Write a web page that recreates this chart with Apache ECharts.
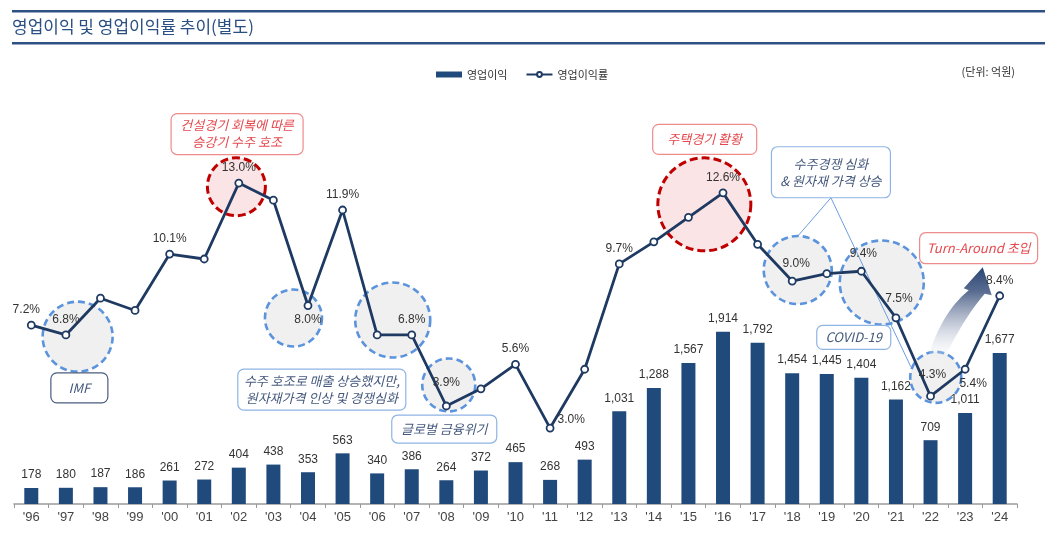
<!DOCTYPE html>
<html>
<head>
<meta charset="utf-8">
<script src="https://cdn.jsdelivr.net/npm/echarts@6/dist/echarts.min.js"></script>
<style>
  html, body { margin: 0; padding: 0; background: #fff; }
  #main { width: 1045px; height: 534px; }
</style>
</head>
<body>
<div id="main"></div>
<script>
const years = ["'96", "'97", "'98", "'99", "'00", "'01", "'02", "'03", "'04", "'05", "'06", "'07", "'08", "'09", "'10",
  "'11", "'12", "'13", "'14", "'15", "'16", "'17", "'18", "'19", "'20", "'21", "'22", "'23", "'24"];
// 영업이익 (억원)
const opProfit = [178, 180, 187, 186, 261, 272, 404, 438, 353, 563, 340, 386, 264, 372, 465,
  268, 493, 1031, 1288, 1567, 1914, 1792, 1454, 1445, 1404, 1162, 709, 1011, 1677];
// 영업이익률 (%)
const opMargin = [7.2, 6.8, 8.3, 7.8, 10.1, 9.9, 13.0, 12.3, 8.0, 11.9, 6.8, 6.8, 3.9, 4.6, 5.6,
  3.0, 5.4, 9.7, 10.6, 11.6, 12.6, 10.5, 9.0, 9.3, 9.4, 7.5, 4.3, 5.4, 8.4];
// years whose margin is printed
const marginLabeled = ["'96", "'97", "'00", "'02", "'04", "'05", "'07", "'08", "'10", "'11", "'13", "'16",
  "'18", "'20", "'21", "'22", "'23", "'24"];

const NAVY = '#1f3a62';
const BAR = '#214a7c';
const FONT = '"Liberation Sans", "Noto Sans CJK KR", sans-serif';
const KFONT = '"Noto Sans CJK KR", sans-serif';

// label placement tweaks for the margin line
const labelTweaks = {
  "'96": { offset: [-5, 0] },
  "'04": { position: 'bottom', distance: 4 },
  "'08": { distance: 13 },
  "'11": { position: 'right', distance: 3, offset: [0, -8] },
  "'18": { distance: 7, offset: [4, 0] },
  "'20": { distance: 7, offset: [2, 0] },
  "'21": { distance: 9, offset: [3, 0] },
  "'22": { distance: 11, offset: [2, 0] },
  "'23": { position: 'bottom', distance: 4, offset: [8, 0] }
};

const marginData = opMargin.map((v, i) => {
  const y = years[i];
  const show = marginLabeled.includes(y);
  return { value: v, label: Object.assign({ show: show }, labelTweaks[y] || {}) };
});

const chartDom = document.getElementById('main');
const myChart = echarts.init(chartDom);

const option = {
  animation: false,
  textStyle: { fontFamily: FONT },
  legend: {
    left: 431,
    top: 64,
    itemWidth: 26,
    itemHeight: 6,
    itemGap: 18,
    textStyle: { fontSize: 11, color: '#333', fontFamily: KFONT },
    data: [{ name: '영업이익', icon: 'rect' }, { name: '영업이익률' }]
  },
  grid: { left: 14, right: 28, top: 63, bottom: 30 },
  xAxis: {
    type: 'category',
    data: years,
    axisLine: { lineStyle: { color: '#9a9a9a', width: 1.5 } },
    axisTick: { show: true, length: 4, lineStyle: { color: '#9a9a9a' } },
    axisLabel: { fontSize: 13, color: '#444', margin: 7 }
  },
  yAxis: [
    { type: 'value', min: 0, max: 4900, show: false, splitLine: { show: false } },
    { type: 'value', min: -0.1, max: 17.9, show: false, splitLine: { show: false } }
  ],
  series: [
    {
      name: '영업이익',
      type: 'bar',
      data: opProfit,
      barWidth: 14,
      itemStyle: { color: BAR },
      label: {
        show: true,
        position: 'top',
        distance: 7,
        fontSize: 12,
        color: '#333',
        formatter: p => p.value.toLocaleString('en-US')
      },
      z: 2
    },
    {
      name: '영업이익률',
      type: 'line',
      yAxisIndex: 1,
      data: marginData,
      symbol: 'circle',
      symbolSize: 7,
      lineStyle: { color: NAVY, width: 2.8 },
      itemStyle: { color: '#fff', borderColor: NAVY, borderWidth: 1.8 },
      label: {
        position: 'top',
        distance: 5,
        fontSize: 12,
        color: '#333',
        formatter: p => p.value.toFixed(1) + '%'
      },
      z: 5
    }
  ]
};
option && myChart.setOption(option);

// ---- annotations, anchored on the axes' own scales ----
const xa = myChart.convertToPixel({ xAxisIndex: 0 }, years[0]);
const xb = myChart.convertToPixel({ xAxisIndex: 0 }, years[years.length - 1]);
const pt = (i, v) => [xa + i * (xb - xa) / (years.length - 1), myChart.convertToPixel({ yAxisIndex: 1 }, v)];

const circles = [
  { i: 1.34, v: 6.73, r: 35, kind: 'blue' },
  { i: 5.93, v: 12.85, r: 29, kind: 'red' },
  { i: 7.58, v: 7.49, r: 28.5, kind: 'blue' },
  { i: 10.45, v: 7.41, r: 37.5, kind: 'blue' },
  { i: 12.07, v: 4.76, r: 26.5, kind: 'blue' },
  { i: 19.46, v: 12.13, r: 46.5, kind: 'red' },
  { i: 22.16, v: 9.45, r: 34, kind: 'blue' },
  { i: 24.59, v: 8.94, r: 42, kind: 'blue' },
  { i: 26.15, v: 5.07, r: 25.5, kind: 'blue' }
];

const boxes = [
  { text: 'IMF', i: 1.39, v: 4.64, w: 57, h: 30, kind: 'dark' },
  { text: '건설경기 회복에 따른\n승강기 수주 호조', i: 5.95, v: 15.0, w: 132, h: 41, kind: 'red' },
  { text: '수주 호조로 매출 상승했지만,\n원자재가격 인상 및 경쟁심화', i: 8.40, v: 4.57, w: 168, h: 41, kind: 'blue' },
  { text: '글로벌 금융위기', i: 11.94, v: 2.96, w: 105, h: 28, kind: 'blue' },
  { text: '주택경기 활황', i: 19.47, v: 14.78, w: 104, h: 30, kind: 'red' },
  { text: '수주경쟁 심화\n& 원자재 가격 상승', i: 23.12, v: 13.44, w: 119, h: 51, kind: 'blue' },
  { text: 'COVID-19', i: 23.78, v: 6.70, w: 74, h: 24, kind: 'blue' },
  { text: 'Turn-Around 초입', i: 27.39, v: 10.34, w: 118, h: 31, kind: 'red' }
];

const boxStyle = {
  red: { stroke: '#ee8b8b', text: '#e5484d' },
  blue: { stroke: '#8eb4e3', text: '#45597d' },
  dark: { stroke: '#4a5c7c', text: '#45597d' }
};

const graphics = [];

// header rules + title
graphics.push({ type: 'rect', shape: { x: 12, y: 10, width: 1033, height: 2.5 }, style: { fill: '#2f5083' } });
graphics.push({ type: 'rect', shape: { x: 12, y: 42, width: 1033, height: 2.5 }, style: { fill: '#2f5083' } });
graphics.push({
  type: 'text', x: 12, y: 27,
  style: { text: '영업이익 및 영업이익률 추이(별도)', fill: '#2a4f82', font: 'normal 17px ' + KFONT, verticalAlign: 'middle' }
});
graphics.push({
  type: 'text', x: 1015, y: 72,
  style: { text: '(단위: 억원)', fill: '#333', font: '11px ' + KFONT, align: 'right', verticalAlign: 'middle' }
});

circles.forEach(c => {
  const [cx, cy] = pt(c.i, c.v);
  const red = c.kind === 'red';
  graphics.push({
    type: 'circle', z: 0,
    shape: { cx: cx, cy: cy, r: c.r },
    style: {
      fill: red ? '#fbe4e5' : '#f0f0f0',
      stroke: red ? '#c00000' : '#5b93dc',
      lineWidth: red ? 3 : 2.6,
      lineDash: red ? [8, 4] : [7, 4]
    }
  });
});

// pointer lines from the 수주경쟁 box
const from = pt(23.12, 13.44);
const fromXY = [from[0], from[1] + 25.5];
[[22.16, 10.83], [25.43, 5.5]].forEach(([i, v]) => {
  const to = pt(i, v);
  graphics.push({
    type: 'line', z: 1,
    shape: { x1: fromXY[0], y1: fromXY[1], x2: to[0], y2: to[1] },
    style: { stroke: '#6d9de0', lineWidth: 1 }
  });
});

boxes.forEach(b => {
  const [cx, cy] = pt(b.i, b.v);
  const s = boxStyle[b.kind];
  graphics.push({
    type: 'rect', z: 10,
    shape: { x: cx - b.w / 2, y: cy - b.h / 2, width: b.w, height: b.h, r: 6 },
    style: { fill: '#fff', stroke: s.stroke, lineWidth: 1.2 }
  });
  graphics.push({
    type: 'text', z: 11, x: cx, y: cy,
    style: {
      text: b.text, fill: s.text, font: 'italic 13px ' + KFONT,
      align: 'center', verticalAlign: 'middle', lineHeight: 17
    }
  });
});

// turn-around arrow rising from the '22 circle (curved body + head, as a polygon)
const [ax, ay] = pt(26.15, 5.07);
const quad = (p0, c, p1, n) => {
  const out = [];
  for (let k = 0; k <= n; k++) {
    const t = k / n;
    out.push([
      ax + (1 - t) * (1 - t) * p0[0] + 2 * (1 - t) * t * c[0] + t * t * p1[0],
      ay + (1 - t) * (1 - t) * p0[1] + 2 * (1 - t) * t * c[1] + t * t * p1[1]
    ]);
  }
  return out;
};
const arrowPts = []
  .concat(quad([-9, -13.5], [3, -62.5], [33, -87], 16))
  .concat([[ax + 28, ay - 89], [ax + 47, ay - 110], [ax + 56, ay - 82], [ax + 49, ay - 83.5]])
  .concat(quad([49, -83.5], [27, -58.5], [5, -11.5], 16));
graphics.push({
  type: 'polygon', z: 3,
  shape: { points: arrowPts },
  style: {
    fill: {
      type: 'linear', x: 0, y: 1, x2: 0, y2: 0, global: false,
      colorStops: [
        { offset: 0, color: 'rgba(255,255,255,0)' },
        { offset: 0.4, color: 'rgba(185,193,210,0.75)' },
        { offset: 0.75, color: '#5a6d91' },
        { offset: 1, color: '#2a4675' }
      ]
    }
  }
});

myChart.setOption({ graphic: graphics });
</script>
</body>
</html>
